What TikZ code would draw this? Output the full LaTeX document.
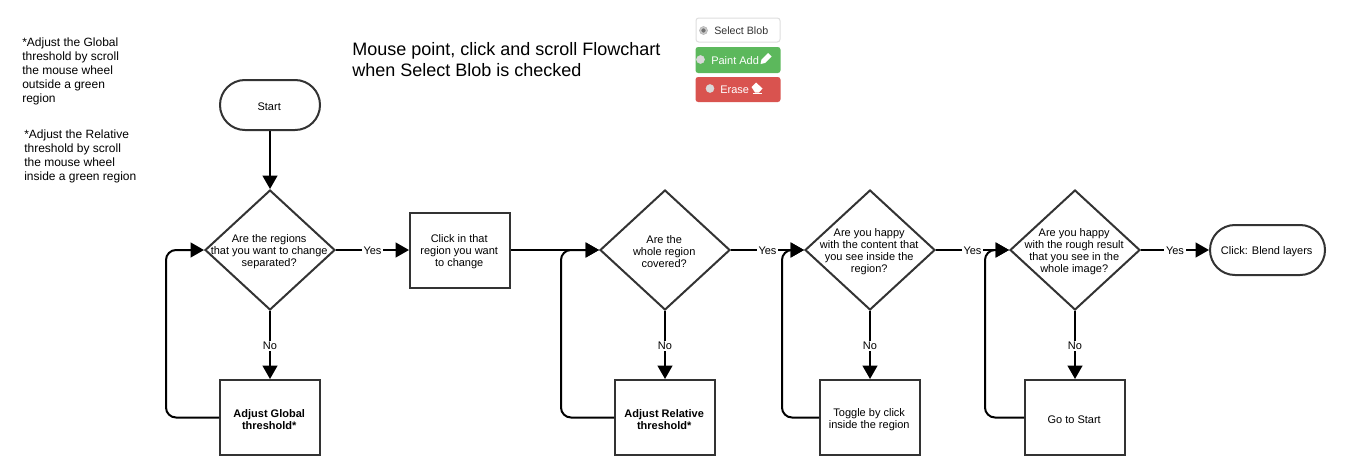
\documentclass[tikz,border=0pt]{standalone}
\usepackage{fontspec}
\setmainfont{Liberation Sans}
\usetikzlibrary{arrows.meta, shapes.geometric}

\begin{document}
\begin{tikzpicture}[
  x=0.75pt, y=-0.75pt,
  flow/.style={line width=1.5pt, -{Triangle[length=10pt,width=11pt]}},
  back/.style={flow, rounded corners=7.5pt},
  boxnode/.style={draw=black!80, line width=1.5pt, minimum width=75pt, minimum height=56.25pt, inner sep=0pt},
  stopnode/.style={boxnode, rounded corners=18.7pt, minimum height=37.5pt},
  decide/.style={draw=black!80, line width=1.5pt, shape=diamond, inner sep=0pt,
    minimum width=97.5pt, minimum height=90pt},
  nodetxt/.style={align=center, inner sep=0pt, xshift=-0.6pt, yshift=-1.4pt, font=\fontsize{8.25}{9}\selectfont},
  boldtxt/.style={nodetxt, font=\fontsize{8.25}{9}\selectfont\bfseries},
  answer/.style={fill=white, inner sep=1.2pt, yshift=-0.7pt, font=\fontsize{8.25}{9}\selectfont},
  note/.style={anchor=north west, align=left, inner sep=0pt, font=\fontsize{9}{10.5}\selectfont},
  radio/.style={circle, draw=black!15, fill=black!15, line width=0.4pt, minimum size=6pt, inner sep=0pt},
  btntxt/.style={anchor=west, inner sep=0pt, font=\fontsize{8.25}{9}\selectfont},
]
  \useasboundingbox (0,0) rectangle (1345,475);

  % notes and title
  \node[note] (noteglobal) at (22,37.5) {*Adjust the Global\\threshold by scroll\\the mouse wheel\\outside a green\\region};
  \node[note] (noterelative) at (24,129.5) {*Adjust the Relative\\threshold by scroll\\the mouse wheel\\inside a green region};
  \node[note, font=\fontsize{13.5}{15.75}\selectfont] (title) at (352,42.5) {Mouse point, click and scroll Flowchart\\when Select Blob is checked};

  % radio buttons
  \filldraw[draw=black!13, fill=white, line width=0.75pt, rounded corners=2pt] (696,18) rectangle (780,42);
  \fill[fill={rgb,255:red,92;green,184;blue,92}, rounded corners=2pt] (695.5,47) rectangle (780.5,73);
  \fill[fill={rgb,255:red,217;green,83;blue,79}, rounded corners=2pt] (695.5,77) rectangle (780.5,102);
  \node[radio, fill=black!20, draw=black!30] (radioselect) at (703.5,30.5) {};
  \fill[black!55] (radioselect) circle (1.6pt);
  \node[radio] (radiopaint) at (700.5,59.5) {};
  \node[radio] (radioerase) at (710,88.5) {};
  \node[btntxt, text=black!80, font=\fontsize{8}{9}\selectfont] (btnselect) at (714,30.5) {Select Blob};
  \node[btntxt, text=white] (btnpaint) at (711,60.5) {Paint Add};
  \node[btntxt, text=white] (btnerase) at (720,89.5) {Erase};
  % pencil
  \fill[white] (760.5,64) -- (761.5,59.5) -- (768,53) -- (771.5,56.5) -- (765,63) -- cycle;
  % eraser
  \fill[white] (751.5,87) -- (756,82.5) -- (762.5,88.5) -- (759,92.5) -- (755,92.5) -- cycle;
  \fill[white] (753,93) rectangle (762,94);

  % flowchart nodes
  \node[stopnode, label={[nodetxt]center:Start}] (start) at (270,105) {};
  \node[decide, label={[nodetxt]center:{Are the regions\\that you want to change\\separated?}}] (qseparated) at (270,250) {};
  \node[boxnode, label={[nodetxt]center:{Click in that\\region you want\\to change}}] (clickregion) at (460,250) {};
  \node[decide, label={[nodetxt]center:{Are the\\whole region\\covered?}}] (qcovered) at (665,250) {};
  \node[decide, label={[nodetxt]center:{Are you happy\\with the content that\\you see inside the\\region?}}] (qcontent) at (870,250) {};
  \node[decide, label={[nodetxt]center:{Are you happy\\with the rough result\\that you see in the\\whole image?}}] (qrough) at (1075,250) {};
  \node[stopnode, minimum width=86.25pt, label={[nodetxt]center:{Click: Blend layers}}] (blend) at (1267.5,250) {};
  \node[boxnode, label={[boldtxt]center:{Adjust Global\\threshold*}}] (adjglobal) at (270,417.5) {};
  \node[boxnode, label={[boldtxt]center:{Adjust Relative\\threshold*}}] (adjrelative) at (665,417.5) {};
  \node[boxnode, label={[nodetxt]center:{Toggle by click\\inside the region}}] (toggle) at (870,417.5) {};
  \node[boxnode, label={[nodetxt]center:{Go to Start}}] (gostart) at (1075,417.5) {};

  % connectors
  \draw[flow] (start) -- (qseparated);
  \draw[flow] (qseparated) -- node[answer] {Yes} (clickregion);
  \draw[flow] (clickregion) -- (qcovered);
  \draw[flow] (qcovered) -- node[answer] {Yes} (qcontent);
  \draw[flow] (qcontent) -- node[answer] {Yes} (qrough);
  \draw[flow] (qrough) -- node[answer] {Yes} (blend);
  \draw[flow] (qseparated) -- node[answer] {No} (adjglobal);
  \draw[flow] (qcovered) -- node[answer] {No} (adjrelative);
  \draw[flow] (qcontent) -- node[answer] {No} (toggle);
  \draw[flow] (qrough) -- node[answer] {No} (gostart);
  \draw[back] (adjglobal.west) -- ++(-53,0) |- (qseparated.west);
  \draw[back] (adjrelative.west) -- ++(-53,0) |- (qcovered.west);
  \draw[back] (toggle.west) -- ++(-37,0) |- (qcontent.west);
  \draw[back] (gostart.west) -- ++(-39,0) |- (qrough.west);
\end{tikzpicture}
\end{document}
